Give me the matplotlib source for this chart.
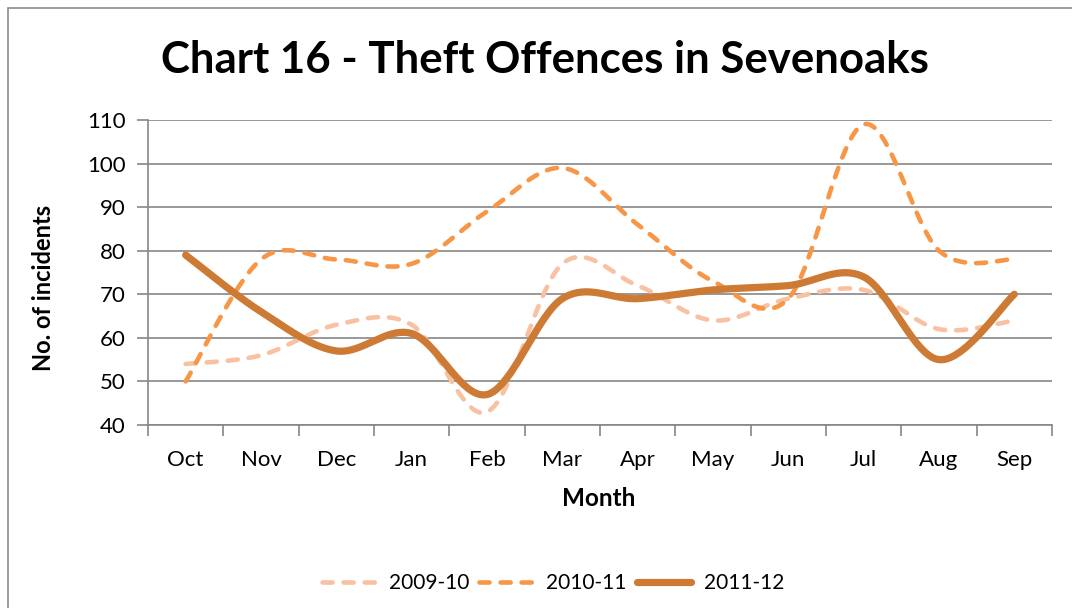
import numpy as np
import matplotlib.pyplot as plt
from matplotlib.patches import Rectangle

months = ["Oct", "Nov", "Dec", "Jan", "Feb", "Mar", "Apr", "May", "Jun", "Jul", "Aug", "Sep"]
s_2009_10 = [54, 56, 63, 63, 43, 77, 72, 64, 69, 71, 62, 64]
s_2010_11 = [50, 78, 78, 77, 89, 99, 86, 73, 69, 109, 80, 78]
s_2011_12 = [79, 66, 57, 61, 47, 69, 69, 71, 72, 74, 55, 70]
series_names = ["2009-10", "2010-11", "2011-12"]

plt.rcParams['font.family'] = ['Lato', 'DejaVu Sans']


def smooth(y, n=40):
    # Excel-style smoothed line: cubic Bezier with Catmull-Rom control points
    x = np.arange(len(y), dtype=float)
    y = np.asarray(y, dtype=float)
    pts = np.column_stack([x, y])
    out = []
    for i in range(len(pts) - 1):
        p0 = pts[max(i - 1, 0)]
        p1 = pts[i]
        p2 = pts[i + 1]
        p3 = pts[min(i + 2, len(pts) - 1)]
        c1 = p1 + (p2 - p0) / 6
        c2 = p2 - (p3 - p1) / 6
        t = np.linspace(0, 1, n)[:, None]
        seg = ((1 - t) ** 3) * p1 + 3 * ((1 - t) ** 2) * t * c1 + 3 * (1 - t) * t ** 2 * c2 + t ** 3 * p2
        out.append(seg if i == 0 else seg[1:])
    seg = np.vstack(out)
    return seg[:, 0], seg[:, 1]


fig = plt.figure(figsize=(10.72, 6.08), dpi=100)
ax = fig.add_axes([148 / 1072, 1 - 425 / 608, (1052 - 148) / 1072, (425 - 120) / 608])

# outer chart frame (cropped at right and bottom like the source)
fig.patches.append(Rectangle((8 / 1072, -0.1), 1.2, (608 - 8) / 608 + 0.1,
                             transform=fig.transFigure, fill=False,
                             edgecolor="#8c8c8c", linewidth=1.2))

colors = ["#F8C1A2", "#F79646", "#CD7A35"]
styles = [dict(lw=3.3, dashes=(2.2, 2.4)), dict(lw=3.3, dashes=(2.2, 2.4)), dict(lw=5.2)]
for name, vals, c, st in zip(series_names, [s_2009_10, s_2010_11, s_2011_12], colors, styles):
    xs, ys = smooth(vals)
    kw = dict(color=c, label=name, lw=st["lw"], solid_capstyle="round", dash_capstyle="round")
    if "dashes" in st:
        ax.plot(xs, ys, linestyle=(0, st["dashes"]), **kw)
    else:
        ax.plot(xs, ys, **kw)

ax.set_xlim(-0.5, 11.5)
ax.set_ylim(40, 110)
ax.set_yticks(range(40, 111, 10))
ax.yaxis.grid(True, color="#868686", linewidth=1.2)
ax.set_axisbelow(True)
ax.set_xticks(np.arange(12))
ax.set_xticklabels(months)
ax.set_xticks(np.arange(-0.5, 12, 1), minor=True)
ax.tick_params(axis="x", which="major", length=0, pad=18, labelsize=16)
ax.tick_params(axis="x", which="minor", length=8, width=1.2, color="#868686", direction="out")
ax.tick_params(axis="y", length=8, width=1.2, color="#868686", pad=8, labelsize=16)
for sp in ["top", "right"]:
    ax.spines[sp].set_visible(False)
for sp in ["left", "bottom"]:
    ax.spines[sp].set_color("#868686")
    ax.spines[sp].set_linewidth(1.2)

fig.text(545 / 1072, 1 - 60 / 608, "Chart 16 - Theft Offences in Sevenoaks",
         ha="center", va="center", fontsize=31.5, fontweight="bold")
fig.text(44 / 1072, 1 - 288 / 608, "No. of incidents", rotation=90,
         ha="center", va="center", fontsize=17, fontweight="bold")
fig.text(599 / 1072, 1 - 498 / 608, "Month", ha="center", va="center",
         fontsize=17.5, fontweight="bold")

fig.legend(loc="center", bbox_to_anchor=(553 / 1072, 1 - 583 / 608), ncol=3,
           frameon=False, fontsize=15, handlelength=2.6, handletextpad=0.6,
           columnspacing=0.5)

fig.savefig("out.png", dpi=100)
